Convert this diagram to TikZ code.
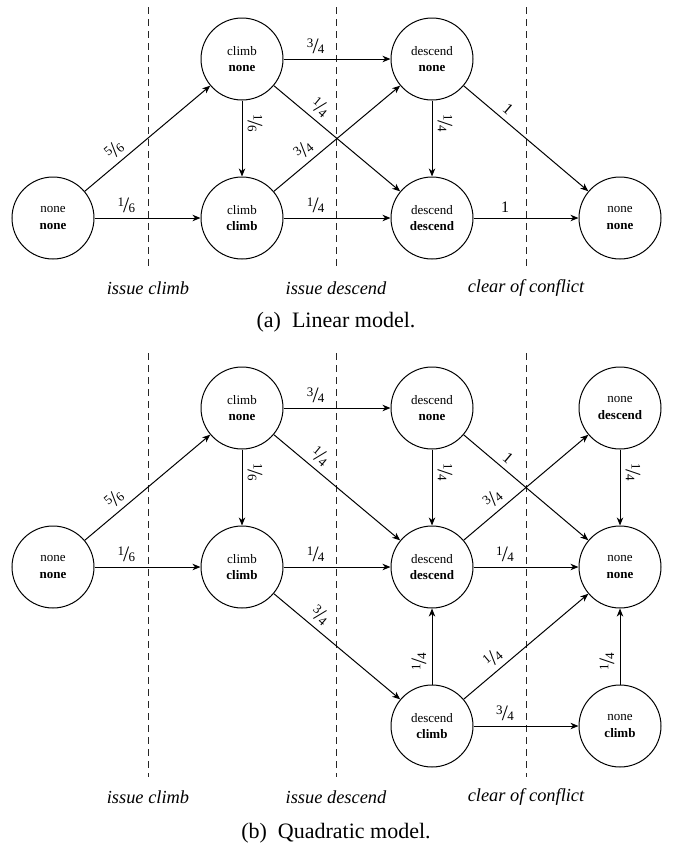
\documentclass[tikz,border=0pt]{standalone}
\usepackage{fontspec}
\setmainfont{Liberation Serif}
\usetikzlibrary{arrows.meta}
\newcommand\fr[2]{\raisebox{2.8pt}{\fontsize{6.5}{7}\selectfont #1}\kern-0.4pt{\fontsize{11}{12}\selectfont /}\kern-0.4pt{\fontsize{6.5}{7}\selectfont #2}}
\newcommand\one{{\fontsize{8}{9}\selectfont 1}}
\tikzset{
  state/.style={circle,draw,line width=0.5pt,minimum size=41pt,inner sep=0pt,align=center,font=\fontsize{6.5}{8.2}\selectfont},
  sep/.style={dash pattern=on 3.6pt off 2.4pt,line width=0.5pt,black!85},
  edge/.style={-{Stealth[length=4pt,width=3.2pt,inset=1.2pt]},line width=0.5pt},
  lab/.style={sloped,above,pos=0.3,inner sep=2.6pt},
  phase/.style={font=\fontsize{9.2}{11}\selectfont\itshape},
  capt/.style={font=\fontsize{11}{13}\selectfont}
}
\begin{document}
\begin{tikzpicture}[x=0.5pt,y=-0.5pt]
\useasboundingbox (0,0) rectangle (673,852);
% ---------- (a) Linear model ----------
\foreach \xx in {148,336,526} \draw[sep] (\xx,7) -- (\xx,268);
\node[phase] (pa1) at (148,288) {issue climb};
\node[phase] (pa2) at (336,288) {issue descend};
\node[phase] (pa3) at (526,288) {clear of conflict};
\node[capt] (capa) at (336,322) {(a)\enspace Linear model.};

\node[state] (a00) at (53,218) {none\\\textbf{none}};
\node[state] (ac0) at (242,59) {climb\\\textbf{none}};
\node[state] (acc) at (242,218) {climb\\\textbf{climb}};
\node[state] (ad0) at (432,59) {descend\\\textbf{none}};
\node[state] (add) at (432,218) {descend\\\textbf{descend}};
\node[state] (ann) at (620,218) {none\\\textbf{none}};

\draw[edge] (a00) -- node[lab] {\fr{5}{6}} (ac0);
\draw[edge] (a00) -- node[lab] {\fr{1}{6}} (acc);
\draw[edge] (ac0) -- node[lab] {\fr{3}{4}} (ad0);
\draw[edge] (ac0) -- node[lab] {\fr{1}{4}} (add);
\draw[edge] (ac0) -- node[lab] {\fr{1}{6}} (acc);
\draw[edge] (acc) -- node[lab] {\fr{3}{4}} (ad0);
\draw[edge] (acc) -- node[lab] {\fr{1}{4}} (add);
\draw[edge] (ad0) -- node[lab] {\fr{1}{4}} (add);
\draw[edge] (ad0) -- node[lab] {\one} (ann);
\draw[edge] (add) -- node[lab] {\one} (ann);

% ---------- (b) Quadratic model ----------
\foreach \xx in {148,336,526} \draw[sep] (\xx,353) -- (\xx,777);
\node[phase] (pb1) at (148,797) {issue climb};
\node[phase] (pb2) at (336,797) {issue descend};
\node[phase] (pb3) at (526,797) {clear of conflict};
\node[capt] (capb) at (336,833) {(b)\enspace Quadratic model.};

\node[state] (b00) at (53,567) {none\\\textbf{none}};
\node[state] (bc0) at (242,408) {climb\\\textbf{none}};
\node[state] (bcc) at (242,567) {climb\\\textbf{climb}};
\node[state] (bd0) at (432,408) {descend\\\textbf{none}};
\node[state] (bdd) at (432,567) {descend\\\textbf{descend}};
\node[state] (bdc) at (432,726) {descend\\\textbf{climb}};
\node[state] (bnd) at (620,408) {none\\\textbf{descend}};
\node[state] (bnn) at (620,567) {none\\\textbf{none}};
\node[state] (bnc) at (620,726) {none\\\textbf{climb}};

\draw[edge] (b00) -- node[lab] {\fr{5}{6}} (bc0);
\draw[edge] (b00) -- node[lab] {\fr{1}{6}} (bcc);
\draw[edge] (bc0) -- node[lab] {\fr{3}{4}} (bd0);
\draw[edge] (bc0) -- node[lab] {\fr{1}{4}} (bdd);
\draw[edge] (bc0) -- node[lab] {\fr{1}{6}} (bcc);
\draw[edge] (bcc) -- node[lab] {\fr{1}{4}} (bdd);
\draw[edge] (bcc) -- node[lab] {\fr{3}{4}} (bdc);
\draw[edge] (bd0) -- node[lab] {\fr{1}{4}} (bdd);
\draw[edge] (bd0) -- node[lab] {\one} (bnn);
\draw[edge] (bdd) -- node[lab] {\fr{3}{4}} (bnd);
\draw[edge] (bdd) -- node[lab] {\fr{1}{4}} (bnn);
\draw[edge] (bdc) -- node[lab] {\fr{1}{4}} (bdd);
\draw[edge] (bdc) -- node[lab] {\fr{1}{4}} (bnn);
\draw[edge] (bdc) -- node[lab] {\fr{3}{4}} (bnc);
\draw[edge] (bnd) -- node[lab] {\fr{1}{4}} (bnn);
\draw[edge] (bnc) -- node[lab] {\fr{1}{4}} (bnn);
\end{tikzpicture}
\end{document}
